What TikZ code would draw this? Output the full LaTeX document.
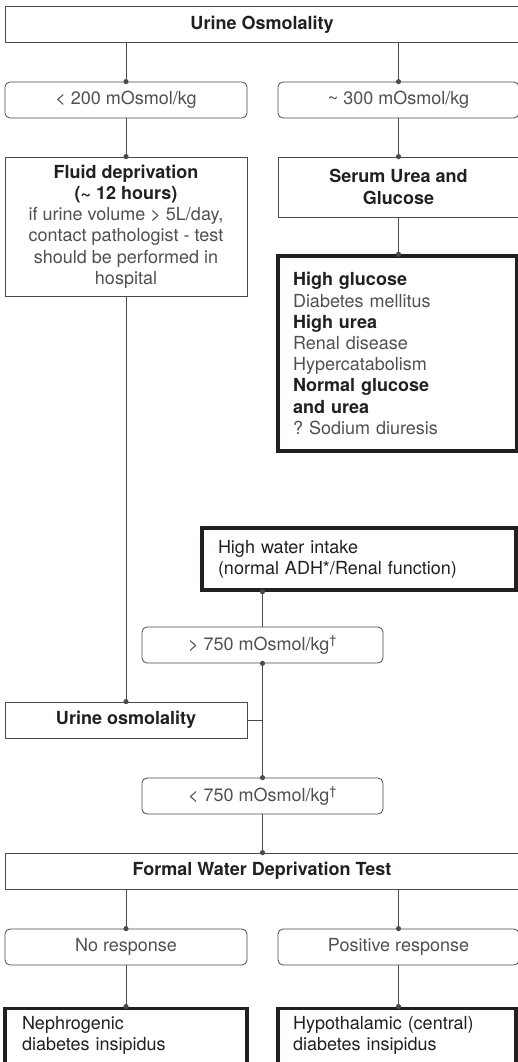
\documentclass[tikz,border=0pt]{standalone}
\usepackage{fontspec}
\setmainfont{TeX Gyre Heros}
\usetikzlibrary{arrows.meta,positioning}
\frenchspacing

\definecolor{linegray}{HTML}{4A4A4A}
\definecolor{txtgray}{HTML}{505050}
\definecolor{txtdark}{HTML}{231F20}
\newcommand{\hdtxt}[1]{\textbf{\color{txtdark}#1}}

\tikzset{box/.style={draw=linegray,line width=0.8pt,minimum height=36pt,inner sep=0pt,
  font=\fontsize{18}{21.2}\selectfont,text=txtgray,align=center}}
\tikzset{roundbox/.style={box,rounded corners=5pt}}
\tikzset{thickbox/.style={box,line width=3.5pt,draw=txtdark,align=left}}
\tikzset{outbox/.style={thickbox,text=txtdark}}
\tikzset{wire/.style={draw=linegray,line width=0.8pt}}
\tikzset{link/.style={wire,->,shorten >=-2.5pt}}

\begin{document}
\begin{tikzpicture}[x=1pt,y=-1pt,>={Circle[length=5pt]},on grid]
\useasboundingbox (0,0) rectangle (518,1062);

% first split on osmolality
\node[box,minimum width=514pt]    (top) at (262,24.5)  {\hdtxt{Urine Osmolality}};
\node[roundbox,minimum width=242pt] (lo) at (126,100)  {< 200 mOsmol/kg};
\node[roundbox,minimum width=241pt] (hi) at (398.5,100) {\textasciitilde{} 300 mOsmol/kg};

\node[box,minimum width=242pt,minimum height=139pt] (fluid) [below=126.5pt of lo]
  {\hdtxt{Fluid deprivation}\\ \hdtxt{(\textasciitilde{} 12 hours)}\\ if urine volume > 5L/day,\\
   contact pathologist - test\\ should be performed in\\ hospital};
\node[box,minimum width=241pt,minimum height=60pt] (serum) [below=87pt of hi]
  {\hdtxt{Serum Urea and}\\ \hdtxt{Glucose}};
\node[thickbox,inner xsep=15pt,text width=209pt,minimum height=195pt] (gluc) at (397.5,353.5)
  {\hdtxt{High glucose}\\ Diabetes mellitus\\ \hdtxt{High urea}\\ Renal disease\\ Hypercatabolism\\
   \hdtxt{Normal glucose}\\ \hdtxt{and urea}\\ ? Sodium diuresis};

% water intake branch
\node[outbox,inner xsep=16pt,text width=282pt,minimum height=62pt] (water) at (359,559)
  {High water intake\\ (normal ADH*/Renal function)};
\node[roundbox,minimum width=241pt] (gt750) at (262.5,645) {> 750 mOsmol/kg\textsuperscript{\textdagger}};
\node[box,minimum width=242pt] (uosm) at (126,720) {\hdtxt{Urine osmolality}};
\node[roundbox,minimum width=241pt] (lt750) [below=151pt of gt750] {< 750 mOsmol/kg\textsuperscript{\textdagger}};
\coordinate (jn) at (uosm.east -| gt750.south);

% deprivation test
\node[box,minimum width=514pt] (formal) at (262,871) {\hdtxt{Formal Water Deprivation Test}};
\node[roundbox,minimum width=242pt] (nores) at (126,947) {No response};
\node[roundbox,minimum width=241pt] (posres) at (398.5,947) {Positive response};
\node[outbox,anchor=north,inner xsep=17pt,inner ysep=8pt,text width=208pt,text depth=40pt] (nephro) at (126,1006.5)
  {Nephrogenic\\ diabetes insipidus};
\node[outbox,anchor=north,inner xsep=15pt,inner ysep=8pt,text width=208pt,text depth=40pt] (hypo) at (397,1006.5)
  {Hypothalamic (central)\\ diabetes insipidus};

\path (top.south -| lo.north) edge [link] (lo.north)
      (top.south -| hi.north) edge [link] (hi.north)
      (lo.south)    edge [link] (fluid.north)
      (hi.south)    edge [link] (serum.north)
      (serum.south) edge [link] (serum.south |- gluc.north)
      (fluid.south) edge [link] (uosm.north)
      (jn)          edge [link] (gt750.south)
      (jn)          edge [link] (lt750.north)
      (gt750.north) edge [link] (gt750.north |- water.south)
      (lt750.south) edge [link] (lt750.south |- formal.north)
      (formal.south -| nores.north)  edge [link] (nores.north)
      (formal.south -| posres.north) edge [link] (posres.north)
      (nores.south)  edge [link] (nores.south |- nephro.north)
      (posres.south) edge [link] (posres.south |- hypo.north);
\draw[wire] (uosm.east) -- (jn);
\end{tikzpicture}
\end{document}
